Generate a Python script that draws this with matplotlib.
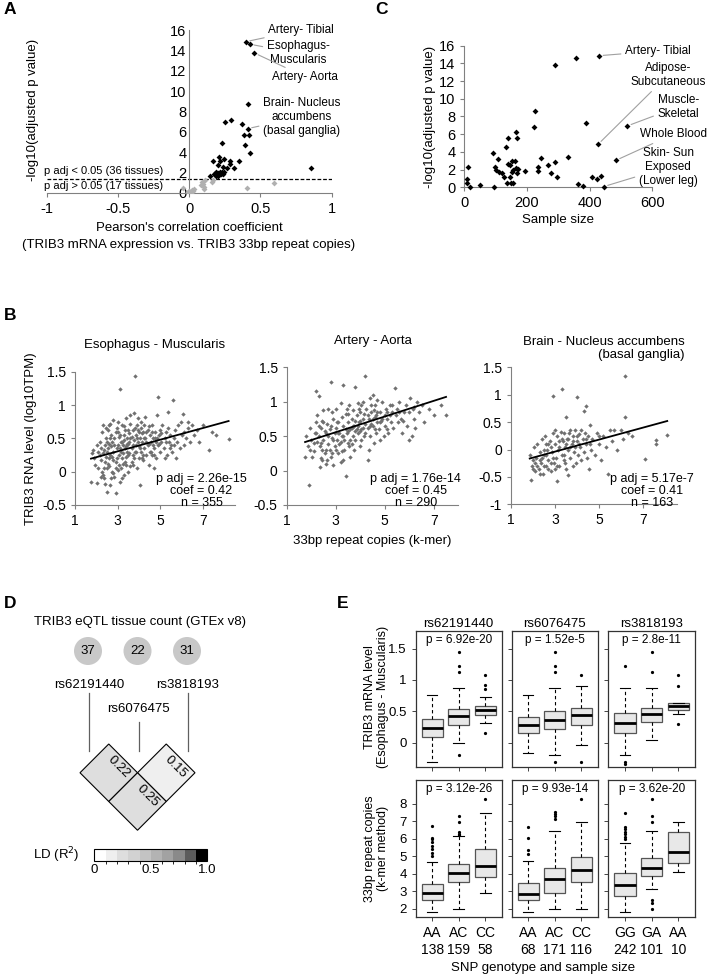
import numpy as np
import matplotlib.pyplot as plt
from matplotlib.patches import Polygon, Circle
from matplotlib.colors import ListedColormap, BoundaryNorm
from matplotlib.cm import ScalarMappable

plt.rcParams['font.family'] = ['Liberation Sans', 'DejaVu Sans']
NARROW = ['Liberation Sans Narrow', 'Liberation Sans', 'DejaVu Sans']

# ---------------- data ----------------
# A: pearson r vs -log10(p adj), significant (black) and not (gray)
sig_r = [0.396, 0.427, 0.457, 0.415, 0.254, 0.294, 0.371, 0.410, 0.387, 0.420,
         0.231, 0.394, 0.427, 0.166, 0.212, 0.217, 0.242, 0.284, 0.352, 0.200,
         0.240, 0.287, 0.263, 0.312, 0.147, 0.177, 0.191, 0.205, 0.217, 0.189,
         0.203, 0.221, 0.235, 0.231, 0.245, 0.855]
sig_p = [14.85, 14.6, 13.74, 8.69, 6.98, 7.18, 6.75, 6.3, 5.64, 5.64,
         4.92, 4.69, 3.9, 3.08, 3.47, 3.08, 3.28, 3.08, 3.08, 2.72,
         2.56, 2.79, 2.46, 2.39, 1.64, 1.87, 2.07, 1.9, 2.07, 1.67,
         1.67, 1.8, 1.8, 2.07, 2.07, 2.43]
ns_r = [-0.047, 0.002, 0.019, 0.035, 0.089, 0.110, 0.100, 0.107, 0.107, 0.163,
        0.170, 0.403, 0.592, -0.005, 0.012, 0.026, 0.084]
ns_p = [0.49, 0.2, 0.26, 0.33, 1.08, 1.25, 0.82, 0.59, 0.36, 1.08,
        1.25, 0.49, 0.92, 0.1, 0.1, 0.2, 0.75]

# C: sample size vs -log10(p adj)
c_n = [430, 355, 290, 227, 223, 389, 520, 427, 484, 445,
       165, 168, 139, 133, 91, 109, 139, 153, 163, 146,
       166, 172, 157, 153, 168, 194, 98, 102, 111, 119,
       128, 135, 148, 156, 147, 234, 234, 245, 268, 276,
       288, 295, 332, 362, 380, 406, 424, 436, 11, 9,
       9, 19, 51, 94]
c_p = [14.87, 14.65, 13.78, 8.66, 6.78, 7.23, 6.93, 4.86, 3.05, 0.08,
       6.29, 5.61, 5.61, 4.59, 3.84, 3.16, 2.64, 3.01, 3.01, 2.52,
       2.22, 2.03, 1.96, 1.73, 1.66, 1.88, 2.33, 1.96, 1.69, 1.58,
       1.2, 0.53, 0.53, 0.53, 1.2, 2.26, 1.88, 3.28, 2.52, 1.58,
       2.9, 1.2, 3.39, 0.38, 0.19, 1.2, 0.9, 1.28, 2.33, 0.98,
       0.45, 0.08, 0.3, 0.08]

# B: repeat copies vs log10 TPM, three tissues
eso_pts = [(1.75, -0.15), (1.85, 0.33), (1.9, 0.2), (1.95, 0.1), (1.8, 0.28),
           (2.05, -0.17), (2.1, 0.05), (2.1, 0.3), (2.15, 0.45), (2.2, 0.18), (2.25, 0.6),
           (2.3, 0.7), (2.3, -0.05), (2.2, 0.35), (2.15, 0.25), (2.05, 0.4), (2.25, 0.0),
           (2.4, 0.15), (2.45, 0.5), (2.5, -0.31), (2.5, 0.3), (2.55, 0.62), (2.6, 0.08),
           (2.6, 0.42), (2.65, 0.25), (2.7, -0.1), (2.7, 0.55), (2.35, 0.33), (2.4, -0.18),
           (2.45, 0.22), (2.55, 0.12), (2.65, 0.72), (2.7, 0.38), (2.35, 0.05), (2.5, 0.45),
           (2.6, 0.2), (2.75, 0.0), (2.8, 0.3), (2.85, 0.5), (2.9, -0.32), (2.9, 0.15),
           (2.95, 0.65), (3.0, 0.4), (3.0, 0.02), (3.05, 0.25), (3.1, 1.24), (3.1, 0.55),
           (2.8, 0.78), (2.85, -0.08), (2.95, 0.35), (3.05, 0.1), (2.75, 0.45), (2.8, 0.18),
           (3.0, 0.6), (2.9, 0.05), (3.1, -0.15), (3.15, 0.3), (3.2, 0.7), (3.2, 0.45),
           (3.25, 0.12), (3.3, 0.55), (3.3, -0.05), (3.35, 0.35), (3.4, 0.8), (3.4, 0.22),
           (3.45, 0.5), (3.5, 0.62), (3.5, 0.0), (3.15, 0.05), (3.25, 0.4), (3.35, 0.62),
           (3.45, 0.3), (3.2, 0.2), (3.3, 0.48), (3.4, 0.1), (3.5, 0.42), (3.55, 0.28),
           (3.6, 0.85), (3.6, 0.5), (3.65, 0.15), (3.7, 0.4), (3.7, 0.62), (3.75, 0.88),
           (3.8, 1.44), (3.8, 0.3), (3.85, 0.55), (3.9, 0.05), (3.9, 0.7), (3.95, 0.45),
           (4.0, 0.2), (4.0, 0.6), (3.55, 0.45), (3.65, 0.35), (3.75, 0.2), (3.85, 0.4),
           (3.95, 0.8), (3.6, 0.08), (3.7, 0.25), (3.8, 0.65), (3.9, 0.5), (4.0, 0.38),
           (4.05, -0.2), (4.05, 0.5), (4.1, 0.3), (4.1, 0.75), (4.15, 0.45), (4.2, 0.6),
           (4.2, 0.18), (4.25, 0.35), (4.3, 0.82), (4.3, 0.5), (4.35, 0.25), (4.4, 0.62),
           (4.4, 0.4), (4.45, 0.1), (4.5, 0.55), (4.5, 0.3), (4.15, 0.2), (4.25, 0.7),
           (4.35, 0.45), (4.45, 0.68), (4.55, 0.45), (4.6, 0.25), (4.6, 0.7), (4.65, 0.5),
           (4.7, 0.35), (4.75, 0.6), (4.8, 0.2), (4.8, 0.45), (4.85, 0.85), (4.9, 1.12),
           (4.9, 0.4), (4.95, 0.55), (5.0, 0.3), (5.0, 0.62), (4.7, 0.05), (4.85, 0.5),
           (5.05, 0.45), (5.1, 0.7), (5.15, 0.35), (5.2, 0.5), (5.25, 0.6), (5.3, 0.25),
           (5.35, 0.9), (5.4, 0.45), (5.45, 0.55), (5.5, 0.4), (5.2, 0.2), (5.35, 0.65),
           (5.55, 0.3), (5.6, 1.08), (5.65, 0.5), (5.7, 0.62), (5.8, 0.45), (5.85, 0.7),
           (5.9, 0.35), (6.0, 0.55), (5.75, 0.2), (5.95, 0.75), (6.05, 0.87), (6.1, 0.6),
           (6.2, 0.5), (6.3, 0.65), (6.4, 0.45), (6.5, 0.7), (6.6, 0.55), (6.7, 0.62),
           (6.1, 0.4), (6.3, 0.75), (6.8, 0.45), (7.3, 0.33), (7.4, 0.6), (7.6, 0.55),
           (8.2, 0.49), (7.0, 0.7),
           (2.3, 0.28), (2.4, 0.4), (2.55, 0.35), (2.65, 0.5), (2.75, 0.22), (2.85, 0.4),
           (2.95, 0.2), (3.05, 0.52), (3.15, 0.45), (3.25, 0.28), (3.35, 0.15), (3.45, 0.42),
           (3.55, 0.58), (3.65, 0.52), (3.75, 0.48), (3.85, 0.3), (3.95, 0.62), (4.05, 0.35),
           (4.15, 0.58), (4.25, 0.5), (4.35, 0.6), (4.45, 0.42), (4.55, 0.3), (4.65, 0.4),
           (4.75, 0.5), (4.95, 0.42), (5.05, 0.58), (5.25, 0.45), (5.45, 0.35), (5.65, 0.4),
           (2.45, 0.65), (2.6, 0.7), (3.0, 0.75), (3.3, 0.68), (3.6, 0.72), (4.1, 0.65),
           (4.6, 0.6), (2.5, 0.05), (2.8, -0.02), (3.2, -0.1), (2.35, -0.1), (2.2, -0.08),
           (2.65, -0.2), (3.4, 0.38), (3.7, 0.1), (4.2, 0.25), (4.7, 0.25), (3.1, 0.35),
           (2.9, 0.6), (3.5, 0.25)]
aorta_pts = [(1.75, 0.2), (1.8, 0.5), (1.85, 0.35), (1.9, -0.21), (1.95, 0.62), (2.0, 0.45),
             (2.05, 0.2), (2.1, 0.28), (2.15, 0.55), (2.2, 1.15), (2.2, 0.7), (2.1, 0.4),
             (1.95, 0.3), (2.25, 0.8), (2.3, 1.08), (2.3, 0.5), (2.35, 0.35), (2.4, 0.62),
             (2.4, 0.18), (2.45, 0.72), (2.5, 0.45), (2.5, 0.88), (2.55, 0.25), (2.6, 0.55),
             (2.6, 0.1), (2.65, 0.68), (2.7, 0.38), (2.7, 0.9), (2.35, 0.05), (2.45, 0.3),
             (2.55, 0.58), (2.65, 0.15), (2.25, 0.42), (2.75, 0.6), (2.8, 1.28), (2.8, 0.2),
             (2.85, 0.48), (2.9, 0.75), (2.9, 0.08), (2.95, 0.35), (3.0, 0.62), (3.0, 0.9),
             (3.05, 0.45), (3.1, 0.25), (3.1, 0.7), (3.15, 0.55), (3.2, 0.98), (3.2, 0.12),
             (2.75, 0.3), (2.85, 0.85), (2.95, 0.55), (3.05, 0.7), (3.15, 0.38), (3.25, 0.5),
             (3.3, 1.25), (3.3, 0.65), (3.35, 0.3), (3.4, -0.08), (3.4, 0.82), (3.45, 0.55),
             (3.5, 0.7), (3.5, 0.4), (3.55, 0.95), (3.6, 0.6), (3.6, 0.2), (3.65, 0.75),
             (3.7, 0.5), (3.7, 0.88), (3.25, 0.78), (3.35, 0.45), (3.45, 0.9), (3.55, 0.35),
             (3.65, 0.62), (3.3, 0.15), (3.5, 0.58), (3.75, 0.65), (3.8, 1.22), (3.8, 0.45),
             (3.85, 0.8), (3.9, 0.55), (3.9, 0.98), (3.95, 0.7), (4.0, 0.35), (4.0, 0.85),
             (4.05, 0.6), (4.1, 0.75), (4.1, 1.0), (4.15, 0.5), (4.2, 1.38), (4.2, 0.68),
             (3.75, 0.3), (3.85, 0.6), (3.95, 0.9), (4.05, 0.45), (4.15, 0.82), (3.8, 0.72),
             (4.0, 0.58), (4.25, 0.9), (4.3, 0.15), (4.3, 0.62), (4.35, 0.75), (4.4, 1.05),
             (4.4, 0.5), (4.45, 0.85), (4.5, 0.65), (4.5, 1.1), (4.55, 0.4), (4.6, 0.78),
             (4.6, 0.95), (4.65, 0.55), (4.7, 0.7), (4.7, 1.02), (4.35, 0.3), (4.45, 0.68),
             (4.55, 0.88), (4.65, 0.8), (4.75, 0.6), (4.8, 0.85), (4.85, 0.72), (4.9, 1.0),
             (4.95, 0.5), (5.0, 0.8), (5.0, 0.65), (5.05, 0.9), (5.1, 0.75), (5.15, 0.55),
             (5.2, 0.95), (5.25, 0.7), (5.3, 0.85), (4.8, 0.45), (5.1, 0.6), (5.35, 0.62),
             (5.4, 1.2), (5.45, 0.8), (5.5, 0.9), (5.55, 0.7), (5.6, 1.0), (5.65, 0.75),
             (5.7, 0.55), (5.8, 0.85), (5.85, 0.95), (5.9, 0.65), (6.0, 0.45), (6.0, 0.85),
             (6.1, 0.5), (6.15, 0.9), (6.2, 0.75), (6.3, 1.0), (6.4, 0.85), (6.5, 0.95),
             (6.6, 0.7), (6.8, 0.9), (7.0, 0.8), (7.3, 0.95), (7.5, 0.8), (6.25, 0.62),
             (6.05, 1.05),
             (2.3, 0.65), (2.5, 0.7), (2.7, 0.5), (2.9, 0.45), (3.1, 0.55), (3.3, 0.5),
             (3.5, 0.82), (3.7, 0.65), (3.9, 0.65), (4.1, 0.62), (4.3, 0.8), (4.5, 0.75),
             (4.7, 0.85), (4.9, 0.75), (5.1, 0.85), (2.4, 0.4), (2.6, 0.3), (2.8, 0.65),
             (3.0, 0.3), (3.2, 0.42), (3.4, 0.6), (3.6, 0.45), (3.8, 0.58), (4.0, 0.72),
             (4.2, 0.55), (4.4, 0.65), (4.6, 0.6), (4.8, 0.7), (5.2, 0.8), (5.6, 0.85),
             (2.2, 0.55), (2.45, 0.15), (2.85, 0.25), (3.25, 0.28), (3.65, 0.38), (4.05, 0.95),
             (4.45, 0.95), (5.3, 0.95), (5.75, 0.72), (6.2, 0.92)]
brain_pts = [(1.85, -0.1), (1.9, -0.55), (1.95, -0.3), (2.0, -0.2), (2.05, 0.05), (2.1, -0.4),
             (2.15, -0.15), (2.2, 0.1), (2.25, -0.35), (2.3, -0.05), (2.35, -0.25), (2.4, 0.2),
             (2.45, -0.45), (2.5, -0.1), (2.55, 0.25), (2.6, -0.3), (2.65, 0.0), (2.7, -0.2),
             (2.75, 0.15), (2.8, -0.4), (2.85, -0.05), (2.9, 0.98), (2.9, 0.3), (2.95, -0.25),
             (3.0, 0.1), (3.05, -0.15), (3.1, -0.57), (3.1, 0.25), (3.15, 0.0), (3.2, -0.3),
             (3.25, 0.32), (3.3, 1.1), (3.3, -0.1), (3.35, 0.15), (3.4, -0.2), (3.45, 0.05),
             (3.5, 0.6), (3.5, -0.35), (3.55, 0.2), (3.6, -0.47), (3.6, 0.0), (3.65, 0.3),
             (3.7, -0.15), (3.75, 0.1), (3.8, 0.25), (3.85, -0.05), (3.9, 0.35), (3.95, -0.25),
             (4.0, 0.96), (4.0, 0.15), (4.05, -0.1), (4.1, 0.28), (4.15, 0.05), (4.2, -0.2),
             (4.25, 0.2), (4.3, 0.7), (4.3, -0.05), (4.35, 0.3), (4.4, 0.8), (4.4, 0.1),
             (4.45, -0.15), (4.5, 0.25), (4.55, -0.35), (4.6, 0.45), (4.65, 0.0), (4.7, 0.2),
             (4.8, -0.1), (4.9, 0.3), (5.0, 0.1), (5.1, -0.2), (5.2, 0.25), (5.3, 0.05),
             (5.4, -0.45), (5.5, 0.35), (5.6, 0.15), (5.7, 0.35), (5.8, 0.0), (6.0, 0.35),
             (6.1, 0.2), (6.2, 1.35), (6.2, 0.6), (6.3, 0.3), (6.5, 0.25), (7.1, -0.17),
             (7.6, 0.17), (7.6, 0.1), (8.1, 0.27), (2.2, -0.3), (2.4, -0.15), (2.6, 0.1),
             (2.8, 0.05), (3.0, -0.35), (3.2, 0.15), (3.4, 0.3), (3.6, 0.2), (3.8, -0.3),
             (2.3, -0.45), (2.7, -0.35), (3.0, 0.35), (3.45, -0.25), (3.7, 0.35), (4.2, 0.35),
             (2.5, 0.0), (2.1, -0.25),
             (2.3, -0.2), (2.6, -0.1), (2.9, -0.15), (3.2, 0.05), (3.5, 0.1), (3.8, 0.15),
             (4.1, 0.1), (2.5, -0.3), (2.8, -0.25), (3.1, -0.3), (3.4, -0.1), (3.7, 0.05),
             (4.0, 0.25), (4.4, 0.2), (4.6, 0.1), (5.0, 0.25), (2.0, -0.35), (2.7, 0.1),
             (3.3, 0.2), (3.9, 0.05)]
b_titles = ['Esophagus - Muscularis', 'Artery - Aorta', 'Brain - Nucleus accumbens\n(basal ganglia)']
b_fit = [(0.0425, 0.0875), (0.215, 0.114), (-0.367, 0.1095)]  # intercept, slope
b_stats = ['p adj = 2.26e-15\ncoef = 0.42\nn = 355',
           'p adj = 1.76e-14\ncoef = 0.45\nn = 290',
           'p adj = 5.17e-7\ncoef = 0.41\nn = 163']

# D: eQTL counts and LD
snps = ['rs62191440', 'rs6076475', 'rs3818193']
eqtl_count = [37, 22, 31]
ld_pairs = [(0, 1, 0.22), (1, 2, 0.15), (0, 2, 0.25)]

# E: box statistics (med, q1, q3, whislo, whishi, fliers)
genotypes = [['AA', 'AC', 'CC'], ['AA', 'AC', 'CC'], ['GG', 'GA', 'AA']]
geno_n = [[138, 159, 58], [68, 171, 116], [242, 101, 10]]
expr_p = ['p = 6.92e-20', 'p = 1.52e-5', 'p = 2.8e-11']
rep_p = ['p = 3.12e-26', 'p = 9.93e-14', 'p = 3.62e-20']
expr_box = [
    [(0.24, 0.09, 0.38, -0.31, 0.76, []),
     (0.42, 0.28, 0.54, 0.0, 0.87, [1.44, 1.23, 1.12, -0.2]),
     (0.52, 0.45, 0.59, 0.31, 0.73, [1.08, 0.92, 0.86, 0.16])],
    [(0.28, 0.15, 0.41, -0.17, 0.76, []),
     (0.37, 0.22, 0.51, -0.2, 0.87, [1.44, 1.23, 1.12, -0.31]),
     (0.44, 0.29, 0.56, -0.04, 0.91, [1.08, -0.3])],
    [(0.32, 0.16, 0.47, -0.2, 0.87, [1.23, -0.3, -0.33]),
     (0.46, 0.33, 0.56, 0.04, 0.87, [1.44, 1.12]),
     (0.59, 0.53, 0.64, 0.46, 0.64, [1.08, 0.91, 0.30])],
]
rep_box = [
    [(2.88, 2.48, 3.39, 1.79, 4.69, [6.7, 6.05, 6.0, 5.8, 5.6, 5.4, 5.2, 5.0]),
     (4.02, 3.49, 4.53, 2.0, 6.13, [7.3, 6.97, 6.4, 6.27, 6.2]),
     (4.46, 3.83, 5.39, 2.88, 7.45, [8.25])],
    [(2.82, 2.48, 3.45, 1.79, 4.72, [6.69, 6.06, 5.35, 5.1]),
     (3.68, 2.91, 4.3, 2.0, 6.44, [7.5, 7.4, 7.3, 7.1]),
     (4.21, 3.54, 4.93, 1.96, 6.93, [8.25])],
    [(3.33, 2.69, 4.02, 1.79, 5.77, [7.45, 6.69, 6.55, 6.4, 6.25, 6.1, 6.0]),
     (4.32, 3.87, 4.91, 3.12, 6.44, [8.25, 7.3, 6.97, 2.5, 2.3, 2.0]),
     (5.24, 4.59, 6.36, 4.08, 6.93, [])],
]

# ---------------- layout helpers ----------------
W, H = 707, 977
fig = plt.figure(figsize=(W / 100, H / 100), dpi=100)


def add_ax(l, t, r, b):
    return fig.add_axes([l / W, 1 - b / H, (r - l) / W, (b - t) / H])


def panel_label(x, y, s):
    fig.text(x / W, 1 - y / H, s, fontsize=12.5, fontweight='bold', ha='left', va='center')


AXC = '#808080'

# ---------------- A ----------------
axA = add_ax(46.7, 30, 331.7, 192.7)
axA.scatter(ns_r, ns_p, marker='D', s=9, color='#b0b0b0', linewidths=0, zorder=3)
axA.scatter(sig_r, sig_p, marker='D', s=9, color='black', linewidths=0, zorder=3)
axA.axhline(-np.log10(0.05), color='black', lw=0.9, ls=(0, (3, 1.5)), xmin=0, xmax=1)
axA.set_xlim(-1, 1)
axA.set_ylim(0, 16)
axA.spines['left'].set_position(('data', 0))
for s in ['top', 'right']:
    axA.spines[s].set_visible(False)
for s in ['left', 'bottom']:
    axA.spines[s].set_color(AXC)
axA.set_xticks([-1, -0.5, 0, 0.5, 1])
axA.set_xticklabels(['-1', '-0.5', '0', '0.5', '1'])
axA.set_yticks(range(0, 17, 2))
axA.tick_params(axis='both', labelsize=10.5, color=AXC, length=3, width=0.8)
axA.tick_params(axis='y', length=0, pad=2)
axA.patch.set_alpha(0)
axA.text(-1.02, 2.15, 'p adj < 0.05 (36 tissues)', fontsize=8, ha='left', va='center')
axA.text(-1.02, 0.68, 'p adj > 0.05 (17 tissues)', fontsize=8, ha='left', va='center')
fig.text(33 / W, 1 - 110 / H, '-log10(adjusted p value)', rotation=90, fontsize=9.5,
         ha='center', va='center')
fig.text(189 / W, 1 - 227.7 / H, "Pearson's correlation coefficient", fontsize=9.5,
         ha='center', va='center')
fig.text(189 / W, 1 - 245 / H, '(TRIB3 mRNA expression vs. TRIB3 33bp repeat copies)',
         fontsize=9.5, ha='center', va='center')
lead = dict(arrowstyle='-', color='#a0a0a0', lw=0.8, shrinkA=1, shrinkB=3)
axA.annotate('Artery- Tibial', xy=(sig_r[0], sig_p[0]), xytext=(0.555, 16.0),
             fontsize=8.5, ha='left', va='center', arrowprops=lead)
axA.annotate('Esophagus-\nMuscularis', xy=(sig_r[1], sig_p[1]), xytext=(0.765, 13.7),
             fontsize=8.5, ha='center', va='center', arrowprops=lead)
axA.annotate('Artery- Aorta', xy=(sig_r[2], sig_p[2]), xytext=(0.814, 11.4),
             fontsize=8.5, ha='center', va='center', arrowprops=lead)
axA.annotate('Brain- Nucleus\naccumbens\n(basal ganglia)', xy=(sig_r[7], sig_p[7]),
             xytext=(0.79, 7.47), fontsize=8.5, ha='center', va='center', arrowprops=lead)
panel_label(4, 10, 'A')

# ---------------- C ----------------
axC = add_ax(464.3, 45.7, 652.3, 187.3)
axC.scatter(c_n, c_p, marker='D', s=9, color='black', linewidths=0, zorder=3, clip_on=False)
axC.set_xlim(0, 600)
axC.set_ylim(0, 16)
for s in ['top', 'right']:
    axC.spines[s].set_visible(False)
for s in ['left', 'bottom']:
    axC.spines[s].set_color(AXC)
axC.set_xticks([0, 200, 400, 600])
axC.set_yticks(range(0, 17, 2))
axC.tick_params(axis='both', labelsize=10.5, color=AXC, length=3, width=0.8)
axC.set_xlabel('Sample size', fontsize=9.5, labelpad=3)
axC.set_ylabel('-log10(adjusted p value)', fontsize=9.5, labelpad=2)
axC.annotate('Artery- Tibial', xy=(c_n[0], c_p[0]), xytext=(513, 15.4),
             fontsize=8.5, ha='left', va='center', arrowprops=lead, annotation_clip=False)
axC.annotate('Adipose-\nSubcutaneous', xy=(c_n[7], c_p[7]), xytext=(651, 12.7),
             fontsize=8.5, ha='center', va='center', arrowprops=lead, annotation_clip=False)
axC.annotate('Muscle-\nSkeletal', xy=(c_n[6], c_p[6]), xytext=(683, 9.1),
             fontsize=8.5, ha='center', va='center', arrowprops=lead, annotation_clip=False)
axC.annotate('Whole Blood', xy=(c_n[8], c_p[8]), xytext=(667, 6.0),
             fontsize=8.5, ha='center', va='center', arrowprops=lead, annotation_clip=False)
axC.annotate('Skin- Sun\nExposed\n(Lower leg)', xy=(c_n[9], c_p[9]), xytext=(651, 2.3),
             fontsize=8.5, ha='center', va='center', arrowprops=lead, annotation_clip=False)
panel_label(375, 10, 'C')

# ---------------- B ----------------
b_boxes = [(75, 371.7, 235, 505), (286.7, 367.3, 458.3, 505), (511, 367.3, 676.7, 504.3)]
b_xlim = [(1, 8.5), (1, 8.0), (1, 8.53)]
b_ylim = [(-0.5, 1.5), (-0.5, 1.5), (-1, 1.5)]
b_yticks = [[-0.5, 0, 0.5, 1, 1.5], [-0.5, 0, 0.5, 1, 1.5], [-1, -0.5, 0, 0.5, 1, 1.5]]
b_text_pos = [(6.93, -0.015), (6.26, -0.03), (7.4, -0.42)]
for i, pts in enumerate([eso_pts, aorta_pts, brain_pts]):
    ax = add_ax(*b_boxes[i])
    px, py = np.array(pts).T
    ax.scatter(px, py, marker='D', s=5, color='#707070', linewidths=0)
    b0, b1 = b_fit[i]
    xx = np.array([px.min(), px.max()])
    ax.plot(xx, b0 + b1 * xx, color='black', lw=1.3)
    ax.set_xlim(*b_xlim[i])
    ax.set_ylim(*b_ylim[i])
    ax.set_xticks([1, 3, 5, 7])
    ax.set_yticks(b_yticks[i])
    ax.set_yticklabels([f'{v:g}' for v in b_yticks[i]])
    for s in ['top', 'right']:
        ax.spines[s].set_visible(False)
    for s in ['left', 'bottom']:
        ax.spines[s].set_color(AXC)
    ax.tick_params(axis='both', labelsize=10, color=AXC, length=3, width=0.8)
    for lab in ax.get_xticklabels() + ax.get_yticklabels():
        lab.set_family(NARROW)
    tx, ty = b_text_pos[i]
    ax.text(tx, ty, b_stats[i], fontsize=9, family=NARROW, ha='center', va='top',
            linespacing=1.0)
    if i == 2:
        ax.text(0.56, 1.136, b_titles[i], transform=ax.transAxes, fontsize=9.5, family=NARROW,
                ha='center', va='center', multialignment='right', linespacing=1.05)
    else:
        ax.set_title(b_titles[i], fontsize=9.5, family=NARROW, pad=17)
    if i == 0:
        ax.set_ylabel('TRIB3 RNA level (log10TPM)', fontsize=9.5, labelpad=4)
    if i == 1:
        ax.set_xlabel('33bp repeat copies (k-mer)', fontsize=9.5, family=NARROW, labelpad=5)
panel_label(4, 315, 'B')

# ---------------- D ----------------
axD = add_ax(0, 590, 300, 900)
axD.set_xlim(0, 300)
axD.set_ylim(900, 590)
axD.set_aspect('equal')
axD.axis('off')
axD.text(140, 621.7, 'TRIB3 eQTL tissue count (GTEx v8)', fontsize=9.5, ha='center', va='center')
snp_x = 88 + 49.5 * np.arange(len(snps))
label_y = [685, 709, 685]
line_top = [693, 722, 693]
for k in range(len(snps)):
    axD.add_patch(Circle((snp_x[k], 651), 14, color='#c8c8c8', lw=0))
    axD.text(snp_x[k], 651, str(eqtl_count[k]), fontsize=9.5, ha='center', va='center')
    axD.text(snp_x[k] + 1, label_y[k], snps[k], fontsize=9.5, ha='center', va='center')
    axD.plot([snp_x[k] + 1, snp_x[k] + 1], [line_top[k], 751], color='#606060', lw=0.9)

ld_colors = ['#ffffff', '#efefef', '#dedede', '#d2d2d2', '#c3c3c3',
             '#b3b3b3', '#a2a2a2', '#8a8a8a', '#5c5c5c', '#000000']
ld_cmap = ListedColormap(ld_colors)
ld_norm = BoundaryNorm(np.linspace(0, 1, 11), ld_cmap.N)
cell = 57.5
x_left, y_top = 80, 744
for i, j, r2 in ld_pairs:
    cx = x_left + cell * (i + j) / 2
    cy = y_top + cell / 2 * (j - i)
    hw = cell / 2
    poly = Polygon([(cx - hw, cy), (cx, cy - hw), (cx + hw, cy), (cx, cy + hw)],
                   closed=True, facecolor=ld_cmap(ld_norm(r2)), edgecolor='black', lw=0.8)
    axD.add_patch(poly)
    axD.text(cx + 10, cy - 6, f'{r2:.2f}', rotation=-45, fontsize=9.5,
             ha='center', va='center', rotation_mode='anchor')

cax = add_ax(94.3, 849, 207.3, 861)
cb = fig.colorbar(ScalarMappable(norm=ld_norm, cmap=ld_cmap), cax=cax, orientation='horizontal',
                  ticks=[0, 0.5, 1.0])
cb.ax.set_xticklabels(['0', '0.5', '1.0'])
cb.ax.tick_params(length=0, labelsize=9.5, pad=2)
cb.outline.set_linewidth(0.8)
fig.text(56.7 / W, 1 - 855 / H, 'LD (R$^2$)', fontsize=9.5, ha='center', va='center')
panel_label(4, 603, 'D')

# ---------------- E ----------------
e_cols = [(415.7, 501.7), (511.7, 597.7), (608.3, 695)]
e_rows = [(631, 767.3), (780, 917.3)]
for r, (boxes, pvals, ylim, yticks) in enumerate([
        (expr_box, expr_p, (-0.39, 1.78), [0, 0.5, 1, 1.5]),
        (rep_box, rep_p, (1.5, 9.35), [2, 3, 4, 5, 6, 7, 8])]):
    for c in range(3):
        ax = add_ax(e_cols[c][0], e_rows[r][0], e_cols[c][1], e_rows[r][1])
        stats = []
        for med, q1, q3, lo, hi, fl in boxes[c]:
            stats.append(dict(med=med, q1=q1, q3=q3, whislo=lo, whishi=hi, fliers=fl))
        ax.bxp(stats, positions=[1, 2, 3], widths=0.8, patch_artist=True,
               boxprops=dict(facecolor='#e8e8e8', edgecolor='#555555', lw=0.9),
               medianprops=dict(color='black', lw=2),
               whiskerprops=dict(color='black', lw=0.8, ls=(0, (3, 2.5))),
               capprops=dict(color='black', lw=0.8),
               flierprops=dict(marker='o', markersize=1.3, markerfacecolor='black',
                               markeredgecolor='black'))
        ax.set_xlim(0.38, 3.62)
        ax.set_ylim(*ylim)
        ax.set_yticks(yticks)
        ax.set_xticks([1, 2, 3])
        for s in ax.spines.values():
            s.set_color('#333333')
            s.set_linewidth(0.9)
        ax.tick_params(axis='both', length=3, width=0.7, color='#444444', labelsize=9.5)
        ax.text(2, ylim[1] - (ylim[1] - ylim[0]) * 0.065, pvals[c], fontsize=8.5,
                ha='center', va='center')
        if c == 0:
            ax.set_yticklabels([f'{v:g}' for v in yticks])
        else:
            ax.set_yticklabels([])
        if r == 0:
            ax.set_xticklabels([])
            ax.set_title(snps[c], fontsize=9.5, pad=3)
        else:
            ax.set_xticklabels([f'{g}\n{n}' for g, n in zip(genotypes[c], geno_n[c])],
                               fontsize=10, linespacing=1.25)
fig.text(376.7 / W, 1 - 696.7 / H, 'TRIB3 mRNA level\n(Esophagus - Muscularis)',
         rotation=90, fontsize=9, ha='center', va='center', linespacing=1.1)
fig.text(376.7 / W, 1 - 848.3 / H, '33bp repeat copies\n(k-mer method)',
         rotation=90, fontsize=9, ha='center', va='center', linespacing=1.1)
fig.text(543 / W, 1 - 968 / H, 'SNP genotype and sample size', fontsize=9.5,
         ha='center', va='center')
panel_label(337, 603, 'E')

fig.savefig('out.png', dpi=100)
